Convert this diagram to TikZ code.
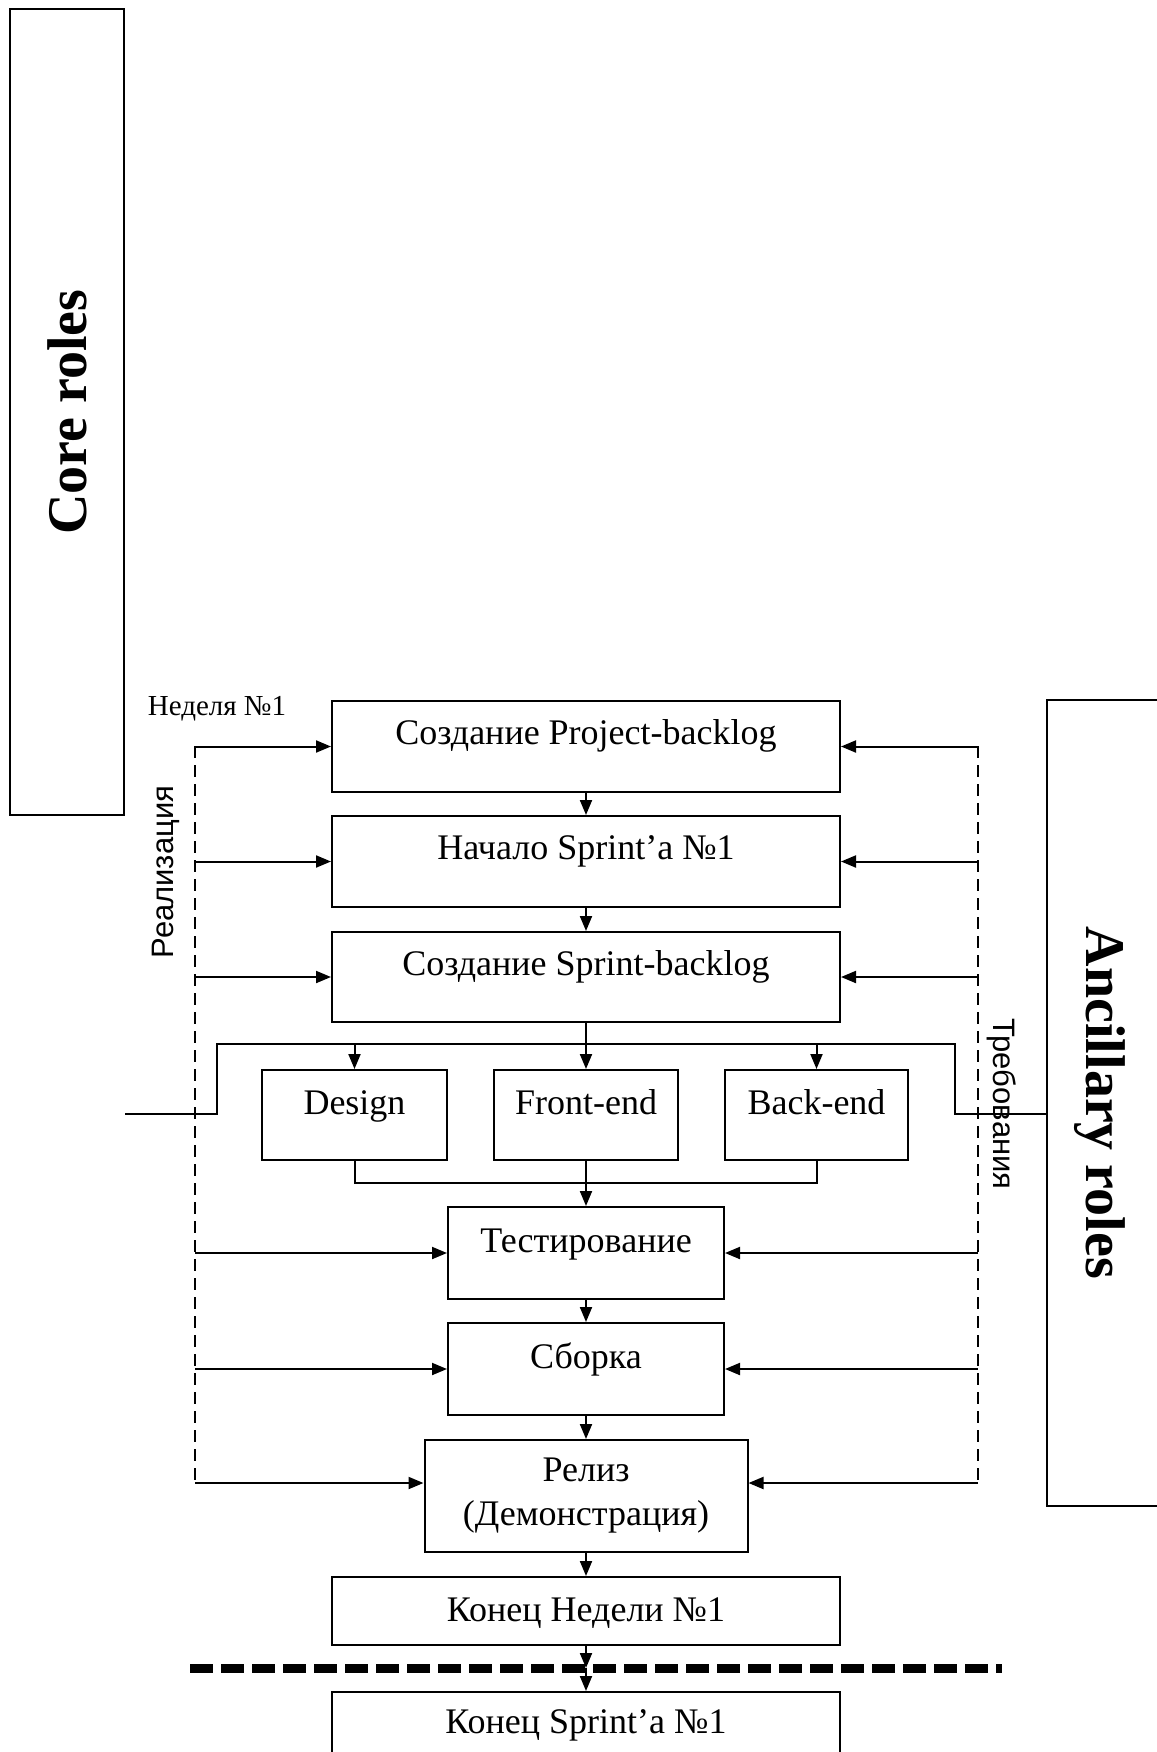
\documentclass[tikz,border=0pt]{standalone}
\usepackage{fontspec}
\setmainfont{Liberation Serif}
\newfontfamily\sidefont{Liberation Sans}
\usetikzlibrary{arrows.meta}

\begin{document}
\begin{tikzpicture}[
  x=1pt, y=-1pt, >={Triangle[length=15pt, width=12pt]},
  box/.style={rectangle, draw=black, line width=2pt, inner sep=0pt, anchor=north, font=\fontsize{36}{44}\selectfont},
  stage/.style={box, text height=43pt},
  role/.style={rectangle, draw=black, line width=2pt},
  roletext/.style={font=\fontsize{56}{60}\selectfont\bfseries},
  side/.style={font=\fontsize{31}{34}\selectfont\sidefont},
  wire/.style={draw, line width=2pt},
  line/.style={draw, line width=2pt, ->},
  feed/.style={draw, line width=2pt, dash pattern=on 12pt off 7pt},
  cut/.style={draw, line width=9pt, dash pattern=on 23pt off 8pt}
]
  \useasboundingbox (0,0) rectangle (1156,1752);

  % Role panels
  \node[role, minimum width=114pt, minimum height=806pt] (core) at (67,412) {};
  \node[roletext, rotate=90] (coretitle) at (core.center) {Core roles};
  \node[role, minimum width=123pt, minimum height=806pt] (ancillary) at (1108.5,1103) {};
  \node[roletext, rotate=-90] (anctitle) at (1100,1103) {Ancillary roles};

  % Side labels
  \node[font=\fontsize{29}{32}\selectfont, anchor=base] (week) at (217,715) {Неделя №1};
  \node[side, rotate=90] (impl) at (166,872) {Реализация};
  \node[side, rotate=-90] (reqs) at (1002,1104) {Требования};

  % Sprint stages
  \node[stage, minimum width=508pt, text depth=48pt] (pbacklog) at (586,700) {Создание Project-backlog};
  \node[stage, minimum width=508pt, text depth=48pt] (sstart) at (586,815) {Начало Sprint’а №1};
  \node[stage, minimum width=508pt, text depth=47pt] (sbacklog) at (586,931) {Создание Sprint-backlog};
  \node[stage, minimum width=185pt, text height=44pt, text depth=46pt] (design) at (354.5,1069) {Design};
  \node[stage, minimum width=184pt, text height=44pt, text depth=46pt] (front) at (586,1069) {Front-end};
  \node[stage, minimum width=183pt, text height=44pt, text depth=46pt] (back) at (816.5,1069) {Back-end};
  \node[stage, minimum width=276pt, text height=45pt, text depth=47pt] (testing) at (586,1206) {Тестирование};
  \node[stage, minimum width=276pt, text height=45pt, text depth=47pt] (build) at (586,1322) {Сборка};
  \node[box, minimum width=323pt, minimum height=112pt, align=center] (release) at (586,1439) {Релиз\\(Демонстрация)};
  \node[stage, minimum width=508pt, text height=44pt, text depth=24pt] (weekend) at (586,1576) {Конец Недели №1};
  \node[stage, minimum width=508pt, text height=41pt, text depth=80pt] (sprintend) at (586,1691) {Конец Sprint’а №1};

  % Dashed rails with feeds into the stages
  \coordinate (railLt) at (195,746);
  \coordinate (railLb) at (195,1483);
  \coordinate (railRt) at (978,746);
  \coordinate (railRb) at (978,1483);
  \draw[feed] (railLt) -- (railLb);
  \draw[feed] (railRt) -- (railRb);
  \foreach \b in {pbacklog, sstart, sbacklog, testing, build} {
    \draw[line] (railLt |- \b.west) -- (\b.west);
    \draw[line] (railRt |- \b.east) -- (\b.east);
  }
  \draw[line] (railLb) -- (release.west |- railLb);
  \draw[line] (railRb) -- (release.east |- railRb);

  % Main flow
  \draw[line] (pbacklog) -- (sstart);
  \draw[line] (sstart) -- (sbacklog);
  \draw[line] (sbacklog) -- (front);

  % Split to the work streams
  \coordinate (split) at (586,1044);
  \coordinate (coreIn) at (125,1114);
  \draw[wire] (coreIn) -| (217,1044) -- (955,1044) |- (ancillary.west |- coreIn);
  \draw[line] (design.north |- split) -- (design.north);
  \draw[line] (back.north |- split) -- (back.north);

  % Join back into testing
  \coordinate (join) at (586,1183);
  \draw[wire] (design.south) |- (join) -| (back.south);
  \draw[line] (front) -- (testing);
  \draw[line] (testing) -- (build);
  \draw[line] (build) -- (release);
  \draw[line] (release) -- (weekend);

  % End of week boundary
  \coordinate (cutL) at (190,1668);
  \coordinate (cutR) at (1002,1668);
  \coordinate (cutmid) at (586,1668);
  \draw[cut] (cutL) -- (cutR);
  \draw[line] (weekend) -- (cutmid);
  \draw[line] (cutmid) -- (sprintend);
\end{tikzpicture}
\end{document}
